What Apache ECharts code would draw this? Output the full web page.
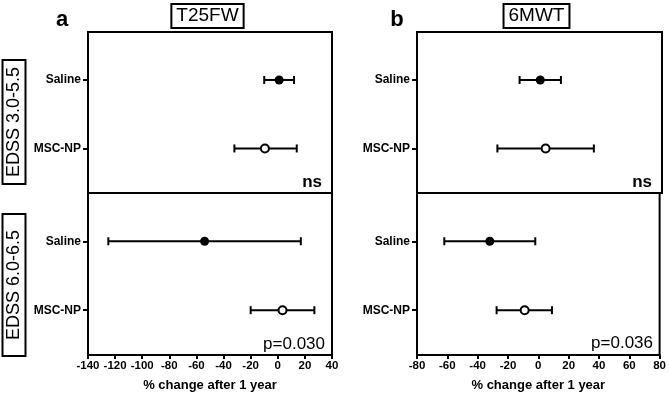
<!DOCTYPE html>
<html>
<head>
<meta charset="utf-8">
<script src="https://cdn.jsdelivr.net/npm/echarts@6/dist/echarts.min.js"></script>
<style>
html, body { margin: 0; padding: 0; background: #fff; }
#main { width: 669px; height: 395px; }
</style>
</head>
<body>
<div id="main"></div>
<script>
var groups = ['Saline', 'MSC-NP'];
var t25fwTicks = [-140, 40];
var mwtTicks = [-80, 80];

// mean, lower, upper for Saline / MSC-NP
var t25fwMildMean = [1, -9.5];
var t25fwMildLow = [-10, -32];
var t25fwMildHigh = [12, 14];

var t25fwSevereMean = [-54, 3.5];
var t25fwSevereLow = [-125, -20];
var t25fwSevereHigh = [17, 27];

var mwtMildMean = [0.5, 4];
var mwtMildLow = [-13, -27.5];
var mwtMildHigh = [14, 35.5];

var mwtSevereMean = [-32, -9];
var mwtSevereLow = [-62, -27.5];
var mwtSevereHigh = [-2, 9];

var myChart = echarts.init(document.getElementById('main'));
var font = '"Liberation Sans", Arial, Helvetica, sans-serif';

var panels = [
    { mean: t25fwMildMean, low: t25fwMildLow, high: t25fwMildHigh, range: t25fwTicks, bottom: false },
    { mean: t25fwSevereMean, low: t25fwSevereLow, high: t25fwSevereHigh, range: t25fwTicks, bottom: true },
    { mean: mwtMildMean, low: mwtMildLow, high: mwtMildHigh, range: mwtTicks, bottom: false },
    { mean: mwtSevereMean, low: mwtSevereLow, high: mwtSevereHigh, range: mwtTicks, bottom: true }
];

var grids = [
    { left: 88, width: 244, top: 32, height: 161 },
    { left: 88, width: 244, top: 193, height: 162 },
    { left: 417, width: 245, top: 32, height: 161 },
    { left: 417, width: 245, top: 193, height: 162 }
];
grids.forEach(function (g) {
    g.show = true;
    g.borderColor = '#000';
    g.borderWidth = 2;
    g.containLabel = false;
});

function renderBar(params, api) {
    var y = api.value(0);
    var a = api.coord([api.value(1), y]);
    var b = api.coord([api.value(2), y]);
    var h = 4;
    var st = { stroke: '#000', lineWidth: 2 };
    return {
        type: 'group',
        children: [
            { type: 'line', shape: { x1: a[0], y1: a[1], x2: b[0], y2: b[1] }, style: st },
            { type: 'line', shape: { x1: a[0], y1: a[1] - h, x2: a[0], y2: a[1] + h }, style: st },
            { type: 'line', shape: { x1: b[0], y1: b[1] - h, x2: b[0], y2: b[1] + h }, style: st }
        ]
    };
}

var xAxes = [], yAxes = [], series = [];
panels.forEach(function (p, i) {
    xAxes.push({
        type: 'value',
        gridIndex: i,
        min: p.range[0],
        max: p.range[1],
        interval: 20,
        splitLine: { show: false },
        axisLine: { show: true, onZero: false, lineStyle: { color: '#000', width: 2 } },
        axisTick: { show: p.bottom, length: 4, lineStyle: { color: '#000', width: 2 } },
        axisLabel: { show: p.bottom, color: '#000', fontWeight: 'bold', fontSize: 11.5, fontFamily: font, margin: 5 },
        name: p.bottom ? '% change after 1 year' : '',
        nameLocation: 'middle',
        nameGap: 24,
        nameTextStyle: { color: '#000', fontWeight: 'bold', fontSize: 13, fontFamily: font }
    });
    yAxes.push({
        type: 'value',
        gridIndex: i,
        inverse: true,
        min: 0.3,
        max: 2.65,
        splitLine: { show: false },
        axisLine: { show: true, onZero: false, lineStyle: { color: '#000', width: 2 } },
        axisTick: { show: true, customValues: [1, 2], length: 5, lineStyle: { color: '#000', width: 2 } },
        axisLabel: {
            customValues: [1, 2],
            color: '#000', fontWeight: 'bold', fontSize: 12, fontFamily: font, margin: 7,
            formatter: function (v) { return groups[Math.round(v) - 1] || ''; }
        }
    });
    series.push({
        type: 'custom',
        xAxisIndex: i,
        yAxisIndex: i,
        renderItem: renderBar,
        encode: { x: [1, 2], y: 0 },
        data: groups.map(function (g, k) { return [k + 1, p.low[k], p.high[k]]; }),
        z: 2
    });
    series.push({
        type: 'scatter',
        xAxisIndex: i,
        yAxisIndex: i,
        symbol: 'circle',
        symbolSize: 9,
        itemStyle: { color: '#000', opacity: 1 },
        data: [[p.mean[0], 1]],
        z: 3
    });
    series.push({
        type: 'scatter',
        xAxisIndex: i,
        yAxisIndex: i,
        symbol: 'circle',
        symbolSize: 8,
        itemStyle: { color: '#fff', borderColor: '#000', borderWidth: 2, opacity: 1 },
        data: [[p.mean[1], 2]],
        z: 3
    });
});

var option = {
    backgroundColor: '#fff',
    animation: false,
    grid: grids,
    xAxis: xAxes,
    yAxis: yAxes,
    series: series,
    graphic: [
        { type: 'text', x: 62, y: 20, style: { text: 'a', font: 'bold 22px ' + font, fill: '#000', textAlign: 'center', textVerticalAlign: 'middle' } },
        { type: 'text', x: 397, y: 20, style: { text: 'b', font: 'bold 22px ' + font, fill: '#000', textAlign: 'center', textVerticalAlign: 'middle' } },
        { type: 'text', x: 207.5, y: 16, style: { text: 'T25FW', font: '19px ' + font, fill: '#000', textAlign: 'center', textVerticalAlign: 'middle', borderColor: '#000', borderWidth: 2, padding: [3, 5, 2, 5] } },
        { type: 'text', x: 536.5, y: 16, style: { text: '6MWT', font: '19px ' + font, fill: '#000', textAlign: 'center', textVerticalAlign: 'middle', borderColor: '#000', borderWidth: 2, padding: [3, 5, 2, 5] } },
        { type: 'text', x: 14, y: 122, rotation: Math.PI / 2, style: { text: 'EDSS 3.0-5.5', font: '18px ' + font, fill: '#000', textAlign: 'center', textVerticalAlign: 'middle', borderColor: '#000', borderWidth: 2, padding: [3, 7, 2, 7] } },
        { type: 'text', x: 14, y: 285, rotation: Math.PI / 2, style: { text: 'EDSS 6.0-6.5', font: '18px ' + font, fill: '#000', textAlign: 'center', textVerticalAlign: 'middle', borderColor: '#000', borderWidth: 2, padding: [3, 16, 2, 16] } },
        { type: 'text', x: 322, y: 182, style: { text: 'ns', font: 'bold 17px ' + font, fill: '#000', textAlign: 'right', textVerticalAlign: 'middle' } },
        { type: 'text', x: 652, y: 182, style: { text: 'ns', font: 'bold 17px ' + font, fill: '#000', textAlign: 'right', textVerticalAlign: 'middle' } },
        { type: 'text', x: 325, y: 344, style: { text: 'p=0.030', font: '17px ' + font, fill: '#000', textAlign: 'right', textVerticalAlign: 'middle' } },
        { type: 'text', x: 653, y: 343, style: { text: 'p=0.036', font: '17px ' + font, fill: '#000', textAlign: 'right', textVerticalAlign: 'middle' } }
    ]
};

myChart.setOption(option);
</script>
</body>
</html>
